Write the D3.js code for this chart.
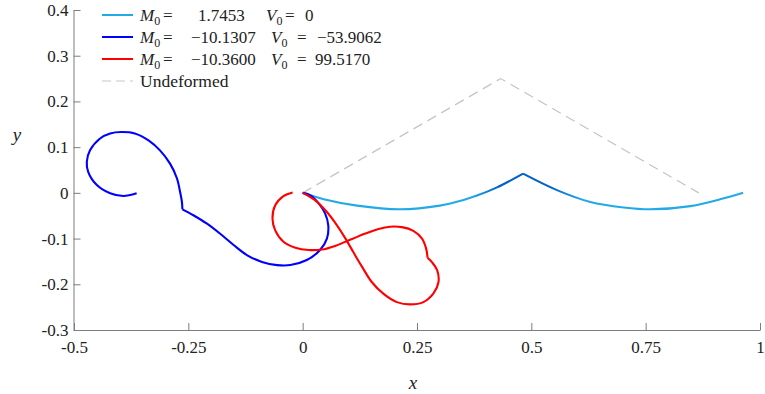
<!DOCTYPE html>
<html><head><meta charset="utf-8">
<script src="https://cdn.jsdelivr.net/npm/d3@7"></script>
<style>
body{margin:0;background:#fff;}
svg text{font-family:"Liberation Serif",serif;fill:#222;}
</style></head>
<body><svg id="c" width="765" height="394"></svg>
<script>
// ---- data ----
const xTicks = [-0.5, -0.25, 0, 0.25, 0.5, 0.75, 1];
const xTickLabels = ["-0.5", "-0.25", "0", "0.25", "0.5", "0.75", "1"];
const yTicks = [-0.3, -0.2, -0.1, 0, 0.1, 0.2, 0.3, 0.4];
const yTickLabels = ["-0.3", "-0.2", "-0.1", "0", "0.1", "0.2", "0.3", "0.4"];

const undeformed = [[0, 0], [0.433, 0.25], [0.866, 0]];

// M0 = 1.7453, V0 = 0  (kink at index 8)
const cyanSeries = [[0,0],[0.046,-0.014],[0.119,-0.028],[0.213,-0.036],[0.300,-0.028],[0.350,-0.016],
  [0.381,-0.006],[0.425,0.012],[0.482,0.042],[0.556,0.006],[0.629,-0.020],[0.702,-0.032],[0.760,-0.036],
  [0.848,-0.029],[0.921,-0.012],[0.963,0]];
const cyanKinks = [8];

// M0 = -10.1307, V0 = -53.9062 (kink at index 16)
const blueSeries = [[0,0],[0.016,-0.005],[0.035,-0.023],[0.049,-0.045],[0.056,-0.071],[0.053,-0.100],
  [0.038,-0.125],[0.009,-0.147],[-0.027,-0.158],[-0.056,-0.158],[-0.089,-0.151],[-0.122,-0.136],
  [-0.151,-0.114],[-0.181,-0.089],[-0.210,-0.067],[-0.239,-0.049],[-0.263,-0.036],[-0.264,-0.020],
  [-0.268,0.002],[-0.275,0.032],[-0.290,0.064],[-0.312,0.093],[-0.337,0.115],[-0.367,0.130],
  [-0.396,0.133],[-0.421,0.130],[-0.443,0.119],[-0.465,0.093],[-0.472,0.068],[-0.469,0.046],
  [-0.450,0.017],[-0.421,-0.001],[-0.392,-0.007],[-0.363,-0.001]];
const blueKinks = [16];

// M0 = -10.3600, V0 = 99.5170 (kink at index 16)
const redSeries = [[0,0],[0.027,-0.016],[0.053,-0.042],[0.075,-0.071],[0.093,-0.099],[0.111,-0.130],
  [0.130,-0.162],[0.151,-0.195],[0.177,-0.221],[0.206,-0.239],[0.235,-0.244],[0.264,-0.239],
  [0.286,-0.220],[0.297,-0.195],[0.294,-0.169],[0.283,-0.152],[0.273,-0.142],[0.270,-0.122],
  [0.261,-0.100],[0.242,-0.083],[0.217,-0.075],[0.191,-0.074],[0.166,-0.079],[0.137,-0.089],
  [0.108,-0.101],[0.071,-0.116],[0.042,-0.124],[0.013,-0.125],[-0.016,-0.120],[-0.042,-0.107],
  [-0.060,-0.082],[-0.066,-0.056],[-0.060,-0.027],[-0.042,-0.007],[-0.022,0.001]];
const redKinks = [16];

const legendLabels = [
  {m:"1.7453", v:"0"},
  {m:"\u221210.1307", v:"\u221253.9062"},
  {m:"\u221210.3600", v:"99.5170"},
  {text:"Undeformed"}
];
const legendColors = ["#22aae6", "#0000ff", "#ff0000", "#c8c8c8"];

// ---- drawing ----
const svg = d3.select("#c");
const x = d3.scaleLinear().domain([-0.5, 1]).range([74, 760]);
const y = d3.scaleLinear().domain([-0.3, 0.4]).range([330, 10]);

const axisColor = "#7d7d7d";
const tickFont = 17;
const gx = svg.append("g").attr("transform", "translate(0,330)")
  .call(d3.axisBottom(x).tickValues(xTicks).tickFormat((d,i)=>xTickLabels[i])
        .tickSizeInner(-7).tickSizeOuter(0).tickPadding(11));
const gy = svg.append("g").attr("transform", "translate(73.5,0)")
  .call(d3.axisLeft(y).tickValues(yTicks).tickFormat((d,i)=>yTickLabels[i])
        .tickSizeInner(-7).tickSizeOuter(0).tickPadding(5));
[gx, gy].forEach(g => {
  g.attr("font-family", "Liberation Serif").attr("font-size", tickFont);
  g.selectAll("path.domain").attr("stroke", axisColor);
  g.selectAll(".tick line").attr("stroke", axisColor);
  g.selectAll(".tick text").attr("fill", "#222");
});

svg.append("text").attr("x", 413).attr("y", 389).attr("text-anchor", "middle")
  .attr("font-style", "italic").attr("font-size", 19).text("x");
svg.append("text").attr("x", 17).attr("y", 141).attr("text-anchor", "middle")
  .attr("font-style", "italic").attr("font-size", 19).text("y");

// gradient for the darker portion of the cyan curve around its kink
const defs = svg.append("defs");
const grad = defs.append("linearGradient").attr("id", "cyanGrad")
  .attr("gradientUnits", "userSpaceOnUse")
  .attr("x1", x(-0.5)).attr("x2", x(1)).attr("y1", 0).attr("y2", 0);
const span = x(1) - x(-0.5);
[[0.37,"#22aae6"],[0.43,"#0062c8"],[0.54,"#0062c8"],[0.61,"#22aae6"]].forEach(([v,c]) => {
  grad.append("stop").attr("offset", (x(v) - x(-0.5)) / span).attr("stop-color", c);
});

const line = d3.line().x(d => x(d[0])).y(d => y(d[1])).curve(d3.curveCatmullRom.alpha(0.5));
function drawSeries(pts, kinks, color, width) {
  const cuts = [0, ...kinks, pts.length - 1];
  for (let i = 0; i < cuts.length - 1; i++) {
    svg.append("path").datum(pts.slice(cuts[i], cuts[i+1] + 1))
      .attr("d", line).attr("fill", "none").attr("stroke", color)
      .attr("stroke-width", width).attr("stroke-linejoin", "round").attr("stroke-linecap", "butt");
  }
}

svg.append("path").datum(undeformed)
  .attr("d", d3.line().x(d => x(d[0])).y(d => y(d[1])))
  .attr("fill", "none").attr("stroke", "#c4c4c4").attr("stroke-width", 1.2)
  .attr("stroke-dasharray", "10,6");

drawSeries(cyanSeries, cyanKinks, "url(#cyanGrad)", 2.1);
drawSeries(blueSeries, blueKinks, "#0000ff", 2.1);
drawSeries(redSeries, redKinks, "#ff0000", 2.1);

// legend
const rowY = [15, 37, 59, 81];
const mX = [198, 191, 191];
const vX = [266, 271, 271];
const veqX = [285, 297, 297];
const vvalX = [305, 317, 315];
legendLabels.forEach((it, i) => {
  const yy = rowY[i];
  svg.append("line").attr("x1", 102).attr("x2", 133).attr("y1", yy).attr("y2", yy)
    .attr("stroke", legendColors[i]).attr("stroke-width", it.text ? 1.2 : 2)
    .attr("stroke-dasharray", it.text ? "9,5" : null);
  const base = yy + 6;
  if (it.text) {
    svg.append("text").attr("x", 140).attr("y", base).attr("font-size", 17.5).text(it.text);
    return;
  }
  const t = svg.append("text").attr("y", base).attr("font-size", 17);
  t.append("tspan").attr("x", 140).attr("font-style", "italic").text("M");
  t.append("tspan").attr("font-size", 12).attr("dy", 4).text("0");
  t.append("tspan").attr("x", 163).attr("dy", -4).text("=");
  t.append("tspan").attr("x", mX[i]).text(it.m);
  t.append("tspan").attr("x", vX[i]).attr("font-style", "italic").text("V");
  t.append("tspan").attr("font-size", 12).attr("dy", 4).text("0");
  t.append("tspan").attr("x", veqX[i]).attr("dy", -4).text("=");
  t.append("tspan").attr("x", vvalX[i]).text(it.v);
});
</script></body></html>
